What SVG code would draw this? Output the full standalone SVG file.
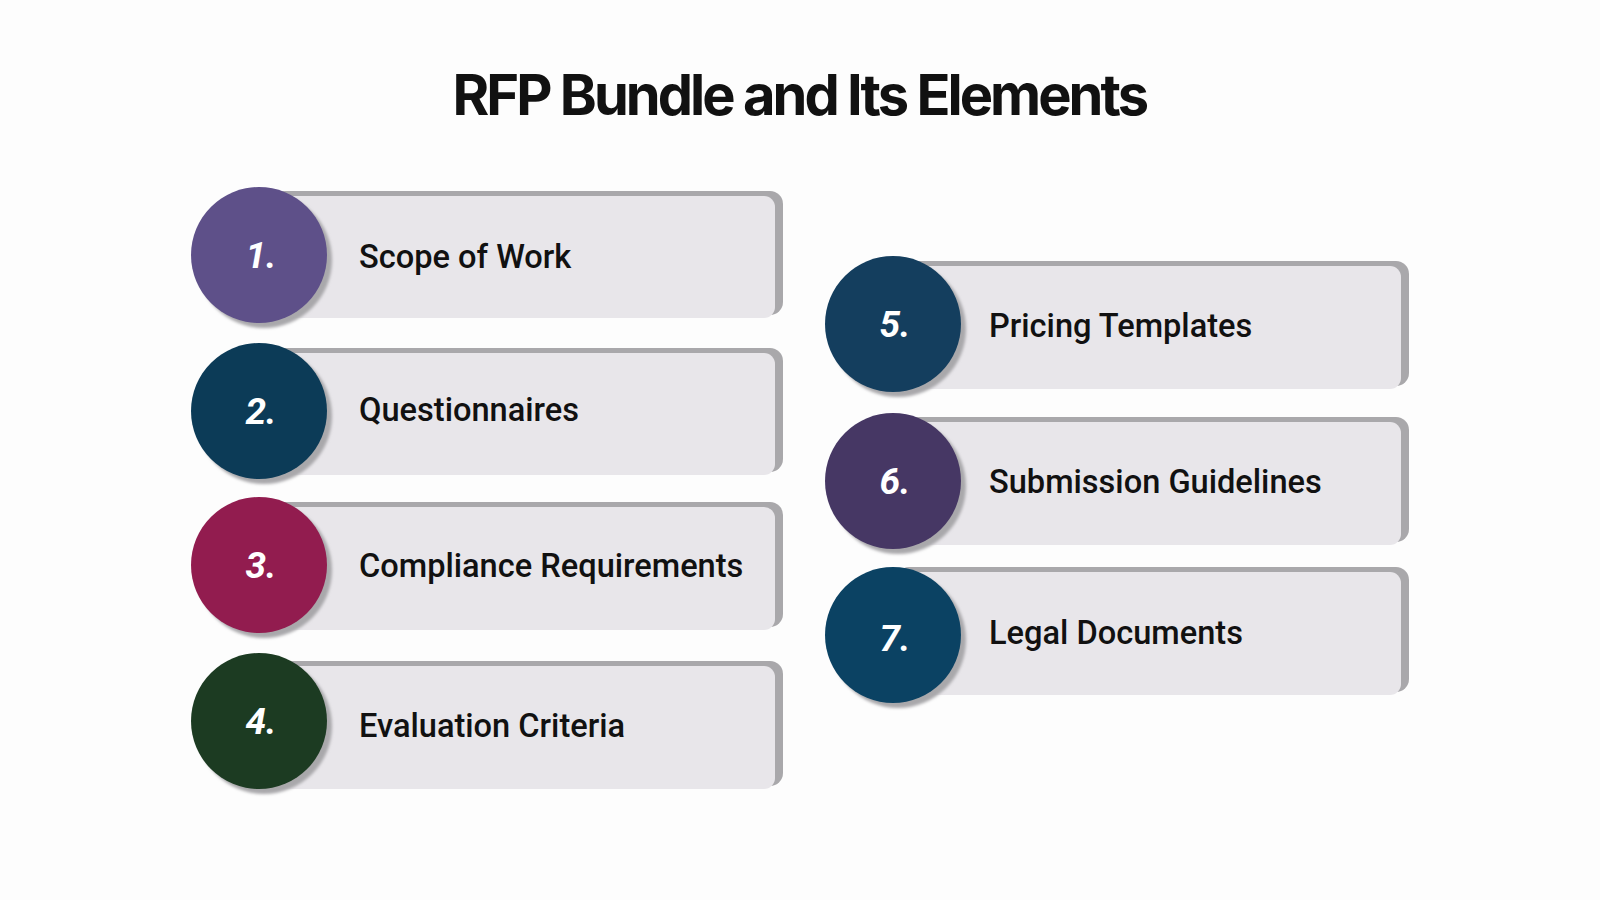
<svg xmlns="http://www.w3.org/2000/svg" width="1600" height="900" viewBox="0 0 1600 900">
<defs>
<filter id="soft" x="-20%" y="-20%" width="140%" height="140%"><feGaussianBlur stdDeviation="1.5"/></filter>
<style>
.bg{fill:#fdfdfd}
.edge{fill:#a9a8ab}
.card{fill:#e8e6ea}
.shadow{fill:#a9a8ab;filter:url(#soft)}
.num{font-family:Roboto,"Liberation Sans",sans-serif;font-weight:700;font-style:italic;font-size:37px;fill:#ffffff;text-anchor:middle}
.lbl{font-family:Roboto,"Liberation Sans",sans-serif;font-weight:500;font-size:32.6px;fill:#111111}
.title{font-family:Inter,"Liberation Sans",sans-serif;font-weight:700;font-size:56px;fill:#111111;text-anchor:middle;letter-spacing:-1.5px}
</style>
</defs>
<rect class="bg" x="0" y="0" width="1600" height="900"/>
<text class="title" x="800" y="115" textLength="695" lengthAdjust="spacing">RFP Bundle and Its Elements</text>

<g id="connectors"></g>

<g id="node1">
<rect class="edge" x="270" y="191" width="513" height="124" rx="13"/>
<rect class="card" x="270" y="196" width="505" height="122" rx="11"/>
<circle class="shadow" cx="264" cy="260" r="68"/>
<circle cx="259" cy="255" r="68" fill="#5e5089"/>
<text class="num" x="261" y="268">1.</text>
<text class="lbl" x="359" y="268">Scope of Work</text>
</g>

<g id="node2">
<rect class="edge" x="270" y="348" width="513" height="124" rx="13"/>
<rect class="card" x="270" y="353" width="505" height="122" rx="11"/>
<circle class="shadow" cx="264" cy="416" r="68"/>
<circle cx="259" cy="411" r="68" fill="#0c3b57"/>
<text class="num" x="261" y="424">2.</text>
<text class="lbl" x="359" y="421">Questionnaires</text>
</g>

<g id="node3">
<rect class="edge" x="270" y="502" width="513" height="125" rx="13"/>
<rect class="card" x="270" y="507" width="505" height="123" rx="11"/>
<circle class="shadow" cx="264" cy="570" r="68"/>
<circle cx="259" cy="565" r="68" fill="#921c4f"/>
<text class="num" x="261" y="578">3.</text>
<text class="lbl" x="359" y="577">Compliance Requirements</text>
</g>

<g id="node4">
<rect class="edge" x="270" y="661" width="513" height="125" rx="13"/>
<rect class="card" x="270" y="666" width="505" height="123" rx="11"/>
<circle class="shadow" cx="264" cy="726" r="68"/>
<circle cx="259" cy="721" r="68" fill="#1c3b22"/>
<text class="num" x="261" y="734">4.</text>
<text class="lbl" x="359" y="737">Evaluation Criteria</text>
</g>

<g id="node5">
<rect class="edge" x="896" y="261" width="513" height="125" rx="13"/>
<rect class="card" x="896" y="266" width="505" height="123" rx="11"/>
<circle class="shadow" cx="898" cy="329" r="68"/>
<circle cx="893" cy="324" r="68" fill="#143e5e"/>
<text class="num" x="895" y="337">5.</text>
<text class="lbl" x="989" y="337">Pricing Templates</text>
</g>

<g id="node6">
<rect class="edge" x="896" y="417" width="513" height="125" rx="13"/>
<rect class="card" x="896" y="422" width="505" height="123" rx="11"/>
<circle class="shadow" cx="898" cy="486" r="68"/>
<circle cx="893" cy="481" r="68" fill="#463764"/>
<text class="num" x="895" y="494">6.</text>
<text class="lbl" x="989" y="493">Submission Guidelines</text>
</g>

<g id="node7">
<rect class="edge" x="896" y="567" width="513" height="125" rx="13"/>
<rect class="card" x="896" y="572" width="505" height="123" rx="11"/>
<circle class="shadow" cx="898" cy="640" r="68"/>
<circle cx="893" cy="635" r="68" fill="#0b4263"/>
<text class="num" x="895" y="651">7.</text>
<text class="lbl" x="989" y="644">Legal Documents</text>
</g>
</svg>
